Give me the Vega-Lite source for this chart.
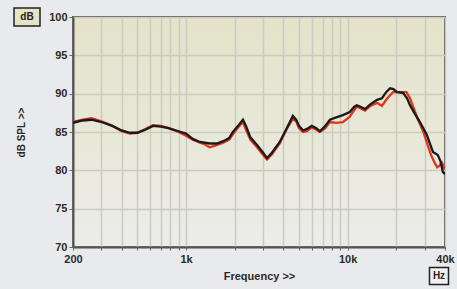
{
  "$schema": "https://vega.github.io/schema/vega-lite/v6.json",
  "width": 372,
  "height": 230,
  "autosize": {"type": "none"},
  "padding": {"left": 73, "top": 17, "right": 12, "bottom": 42},
  "background": "#e9eaed",
  "config": {
    "font": "Liberation Sans",
    "view": {"stroke": "#5a5a5a", "strokeWidth": 2, "fill": {
          "gradient": "linear",
          "x1": 0, "y1": 0, "x2": 0, "y2": 1,
          "stops": [
            {"offset": 0, "color": "#e4e2c8"},
            {"offset": 0.6, "color": "#e9e9dc"},
            {"offset": 1, "color": "#ececea"}
          ]
        }},
    "axis": {
      "domainColor": "#555555",
      "domainWidth": 2,
      "grid": true,
      "gridColor": "#cbcbc0",
      "gridWidth": 1.5,
      "tickColor": "#666666",
      "tickWidth": 1,
      "labelColor": "#2a2a2a",
      "labelFont": "Liberation Sans",
      "labelFontWeight": "bold",
      "labelFontSize": 11,
      "labelOverlap": false,
      "titleFont": "Liberation Sans",
      "titleFontWeight": "bold",
      "titleColor": "#2a2a2a"
    }
  },
  "encoding": {
    "x": {"field": "f", "type": "quantitative", "scale": {"type": "log", "domain": [200, 40000], "nice": false},
      "axis": {
        "values": [200, 300, 400, 500, 600, 700, 800, 900, 1000, 2000, 3000, 4000, 5000, 6000, 7000, 8000, 9000, 10000, 20000, 30000, 40000],
        "labelExpr": "datum.value == 200 ? '200' : datum.value == 1000 ? '1k' : datum.value == 10000 ? '10k' : datum.value == 40000 ? '40k' : ''",
        "labelFlush": false,
        "labelBound": false,
        "tickSize": 3,
        "labelPadding": 3,
        "title": "Frequency >>",
        "titleFontSize": 11,
        "titlePadding": 6
      }
    },
    "y": {"field": "db", "type": "quantitative", "scale": {"domain": [70, 100], "nice": false, "zero": false},
      "axis": {
        "values": [70, 75, 80, 85, 90, 95, 100],
        "tickSize": 4,
        "labelPadding": 2,
        "title": "dB SPL >>",
        "titleFontSize": 10,
        "titlePadding": 22
      }
    }
  },
  "layer": [
    {
      "data": {"values": [
        {"f": 200, "db": 86.3, "s": "red"}, {"f": 230, "db": 86.6, "s": "red"}, {"f": 260, "db": 86.8, "s": "red"},
        {"f": 300, "db": 86.4, "s": "red"}, {"f": 350, "db": 85.8, "s": "red"}, {"f": 400, "db": 85.1, "s": "red"},
        {"f": 450, "db": 84.8, "s": "red"}, {"f": 500, "db": 84.9, "s": "red"}, {"f": 560, "db": 85.4, "s": "red"},
        {"f": 625, "db": 85.9, "s": "red"}, {"f": 700, "db": 85.8, "s": "red"}, {"f": 780, "db": 85.5, "s": "red"},
        {"f": 900, "db": 85.0, "s": "red"}, {"f": 1000, "db": 84.5, "s": "red"}, {"f": 1100, "db": 84.0, "s": "red"},
        {"f": 1220, "db": 83.6, "s": "red"}, {"f": 1300, "db": 83.4, "s": "red"}, {"f": 1400, "db": 83.0, "s": "red"},
        {"f": 1500, "db": 83.2, "s": "red"}, {"f": 1700, "db": 83.6, "s": "red"}, {"f": 1850, "db": 84.0, "s": "red"},
        {"f": 1950, "db": 84.7, "s": "red"}, {"f": 2100, "db": 85.6, "s": "red"}, {"f": 2250, "db": 86.3, "s": "red"},
        {"f": 2350, "db": 85.3, "s": "red"}, {"f": 2500, "db": 84.0, "s": "red"}, {"f": 2750, "db": 83.0, "s": "red"},
        {"f": 3000, "db": 82.0, "s": "red"}, {"f": 3170, "db": 81.4, "s": "red"}, {"f": 3400, "db": 82.1, "s": "red"},
        {"f": 3800, "db": 83.5, "s": "red"}, {"f": 4200, "db": 85.4, "s": "red"}, {"f": 4580, "db": 86.7, "s": "red"},
        {"f": 4800, "db": 86.4, "s": "red"}, {"f": 5000, "db": 85.5, "s": "red"}, {"f": 5300, "db": 85.0, "s": "red"},
        {"f": 5600, "db": 85.1, "s": "red"}, {"f": 6000, "db": 85.6, "s": "red"}, {"f": 6400, "db": 85.3, "s": "red"},
        {"f": 6730, "db": 85.0, "s": "red"}, {"f": 7200, "db": 85.4, "s": "red"}, {"f": 7770, "db": 86.3, "s": "red"},
        {"f": 8500, "db": 86.2, "s": "red"}, {"f": 9340, "db": 86.3, "s": "red"}, {"f": 10300, "db": 87.0, "s": "red"},
        {"f": 11000, "db": 87.9, "s": "red"}, {"f": 11400, "db": 88.3, "s": "red"}, {"f": 12000, "db": 88.1, "s": "red"},
        {"f": 12800, "db": 87.8, "s": "red"}, {"f": 13800, "db": 88.4, "s": "red"}, {"f": 15200, "db": 88.8, "s": "red"},
        {"f": 16300, "db": 88.4, "s": "red"}, {"f": 17300, "db": 89.2, "s": "red"}, {"f": 18300, "db": 89.8, "s": "red"},
        {"f": 19100, "db": 90.2, "s": "red"}, {"f": 20200, "db": 90.2, "s": "red"}, {"f": 22000, "db": 90.2, "s": "red"},
        {"f": 23100, "db": 90.2, "s": "red"}, {"f": 24300, "db": 89.4, "s": "red"}, {"f": 25200, "db": 88.5, "s": "red"},
        {"f": 27000, "db": 86.8, "s": "red"}, {"f": 29400, "db": 85.0, "s": "red"}, {"f": 30900, "db": 83.6, "s": "red"},
        {"f": 32800, "db": 82.0, "s": "red"}, {"f": 34500, "db": 81.0, "s": "red"}, {"f": 35800, "db": 80.4, "s": "red"},
        {"f": 37000, "db": 80.6, "s": "red"}, {"f": 38300, "db": 81.0, "s": "red"}, {"f": 39300, "db": 80.5, "s": "red"},
        {"f": 40000, "db": 80.1, "s": "red"},
        {"f": 200, "db": 86.2, "s": "black"}, {"f": 230, "db": 86.5, "s": "black"}, {"f": 260, "db": 86.6, "s": "black"},
        {"f": 300, "db": 86.3, "s": "black"}, {"f": 350, "db": 85.8, "s": "black"}, {"f": 400, "db": 85.2, "s": "black"},
        {"f": 450, "db": 84.9, "s": "black"}, {"f": 500, "db": 84.9, "s": "black"}, {"f": 560, "db": 85.3, "s": "black"},
        {"f": 625, "db": 85.8, "s": "black"}, {"f": 700, "db": 85.7, "s": "black"}, {"f": 780, "db": 85.5, "s": "black"},
        {"f": 900, "db": 85.1, "s": "black"}, {"f": 1000, "db": 84.8, "s": "black"}, {"f": 1100, "db": 84.1, "s": "black"},
        {"f": 1220, "db": 83.7, "s": "black"}, {"f": 1400, "db": 83.5, "s": "black"}, {"f": 1550, "db": 83.5, "s": "black"},
        {"f": 1700, "db": 83.8, "s": "black"}, {"f": 1850, "db": 84.2, "s": "black"}, {"f": 1950, "db": 85.0, "s": "black"},
        {"f": 2100, "db": 85.8, "s": "black"}, {"f": 2250, "db": 86.6, "s": "black"}, {"f": 2350, "db": 85.8, "s": "black"},
        {"f": 2500, "db": 84.3, "s": "black"}, {"f": 2750, "db": 83.3, "s": "black"}, {"f": 3000, "db": 82.3, "s": "black"},
        {"f": 3170, "db": 81.6, "s": "black"}, {"f": 3400, "db": 82.3, "s": "black"}, {"f": 3800, "db": 83.7, "s": "black"},
        {"f": 4200, "db": 85.5, "s": "black"}, {"f": 4580, "db": 87.1, "s": "black"}, {"f": 4800, "db": 86.6, "s": "black"},
        {"f": 5000, "db": 85.8, "s": "black"}, {"f": 5300, "db": 85.2, "s": "black"}, {"f": 5600, "db": 85.4, "s": "black"},
        {"f": 6000, "db": 85.8, "s": "black"}, {"f": 6400, "db": 85.5, "s": "black"}, {"f": 6730, "db": 85.1, "s": "black"},
        {"f": 7200, "db": 85.7, "s": "black"}, {"f": 7770, "db": 86.6, "s": "black"}, {"f": 8500, "db": 86.9, "s": "black"},
        {"f": 9340, "db": 87.2, "s": "black"}, {"f": 10300, "db": 87.6, "s": "black"}, {"f": 11000, "db": 88.3, "s": "black"},
        {"f": 11400, "db": 88.5, "s": "black"}, {"f": 12000, "db": 88.3, "s": "black"}, {"f": 12800, "db": 88.0, "s": "black"},
        {"f": 13800, "db": 88.6, "s": "black"}, {"f": 15200, "db": 89.2, "s": "black"}, {"f": 16300, "db": 89.4, "s": "black"},
        {"f": 17300, "db": 90.2, "s": "black"}, {"f": 18300, "db": 90.7, "s": "black"}, {"f": 19200, "db": 90.6, "s": "black"},
        {"f": 20200, "db": 90.2, "s": "black"}, {"f": 22000, "db": 90.1, "s": "black"}, {"f": 23300, "db": 89.4, "s": "black"},
        {"f": 24300, "db": 88.5, "s": "black"}, {"f": 26000, "db": 87.4, "s": "black"}, {"f": 28000, "db": 86.3, "s": "black"},
        {"f": 30900, "db": 84.6, "s": "black"}, {"f": 32400, "db": 83.4, "s": "black"}, {"f": 33700, "db": 82.4, "s": "black"},
        {"f": 36100, "db": 82.0, "s": "black"}, {"f": 37500, "db": 81.2, "s": "black"}, {"f": 38800, "db": 79.8, "s": "black"},
        {"f": 40000, "db": 79.5, "s": "black"}
      ]},
      "mark": {"type": "line", "strokeWidth": 2.3, "clip": true},
      "encoding": {
        "detail": {"field": "s"},
        "color": {"field": "s", "type": "nominal", "scale": {"domain": ["red", "black"], "range": ["#e5321c", "#1a1a1a"]}, "legend": null},
        "order": {"field": "f"}
      }
    },
    {
      "data": {"values": [{"f": 200, "db": 100, "t": "dB"}]},
      "layer": [
        {
          "mark": {"type": "point", "shape": "M-1,-0.7H1V0.7H-1Z", "size": 676, "filled": true, "fill": "#e6e3c6", "stroke": "#222222", "strokeWidth": 1.5, "opacity": 1, "xOffset": -46, "yOffset": 0, "clip": false}
        },
        {
          "mark": {"type": "text", "font": "Liberation Sans", "fontWeight": "bold", "fontSize": 10, "color": "#222222", "dx": -46, "dy": 0, "align": "center", "baseline": "middle", "clip": false},
          "encoding": {"text": {"field": "t"}}
        }
      ]
    },
    {
      "data": {"values": [{"f": 40000, "db": 70, "t": "Hz"}]},
      "layer": [
        {
          "mark": {"type": "point", "shape": "M-1,-0.9H1V0.9H-1Z", "size": 361, "filled": true, "fill": "#f2f2f2", "stroke": "#222222", "strokeWidth": 1.5, "opacity": 1, "xOffset": -6, "yOffset": 29, "clip": false}
        },
        {
          "mark": {"type": "text", "font": "Liberation Sans", "fontWeight": "bold", "fontSize": 10, "color": "#222222", "dx": -6, "dy": 29, "align": "center", "baseline": "middle", "clip": false},
          "encoding": {"text": {"field": "t"}}
        }
      ]
    }
  ]
}
